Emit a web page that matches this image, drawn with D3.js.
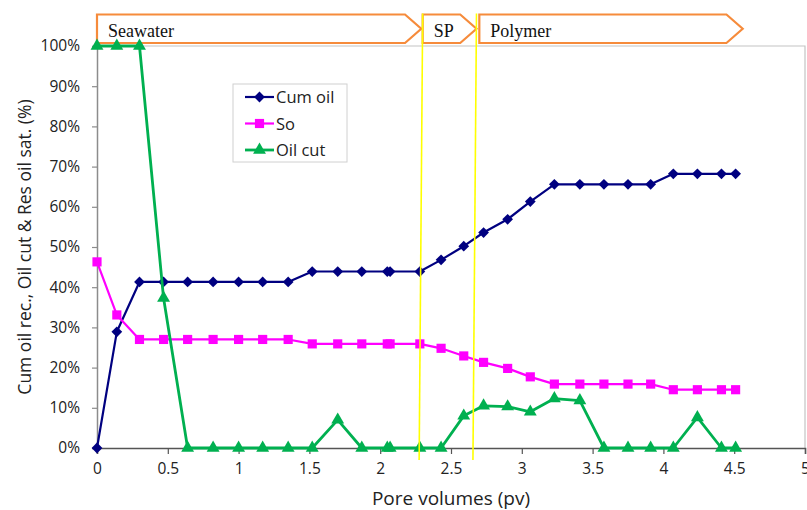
<!DOCTYPE html>
<html>
<head>
<meta charset="utf-8">
<script src="https://cdn.jsdelivr.net/npm/d3@7"></script>
<style>
  html, body { margin: 0; padding: 0; background: #fff; }
  svg { display: block; font-family: "Open Sans", "Liberation Sans", sans-serif; }
  text { fill: #222; }
  .stage-label { font-family: "Liberation Serif", "Times New Roman", serif; }
</style>
</head>
<body>
<svg id="chart" width="807" height="510"></svg>
<script>
// Pore volumes injected (pv) at each measurement
const poreVolumes = [0, 0.14, 0.30, 0.47, 0.64, 0.82, 1.00, 1.17, 1.35, 1.52, 1.70, 1.87, 2.05, 2.07,
  2.28, 2.43, 2.59, 2.73, 2.90, 3.06, 3.23, 3.41, 3.58, 3.75, 3.91, 4.07, 4.24, 4.41, 4.51];
// Cumulative oil recovery (%)
const cumOil = [0, 28.9, 41.3, 41.3, 41.3, 41.3, 41.3, 41.3, 41.3, 43.9, 43.9, 43.9, 43.9, 43.9,
  43.9, 46.8, 50.2, 53.6, 56.9, 61.3, 65.6, 65.6, 65.6, 65.6, 65.6, 68.2, 68.2, 68.2, 68.2];
// Residual oil saturation So (%)
const oilSat = [46.3, 33.1, 27.0, 27.0, 27.0, 27.0, 27.0, 27.0, 27.0, 25.9, 25.9, 25.9, 25.9, 25.9,
  25.9, 24.8, 22.9, 21.3, 19.8, 17.7, 15.9, 15.9, 15.9, 15.9, 15.9, 14.5, 14.5, 14.5, 14.5];
// Oil cut (%)
const oilCut = [100, 100, 100, 37.3, 0, 0, 0, 0, 0, 0, 7.0, 0, 0, 0,
  0, 0, 8.0, 10.5, 10.3, 9.0, 12.3, 11.8, 0, 0, 0, 0, 7.6, 0, 0];

const seriesNames = ["Cum oil", "So", "Oil cut"];
const xTicks = [0, 0.5, 1, 1.5, 2, 2.5, 3, 3.5, 4, 4.5, 5];
const yTicks = [0, 10, 20, 30, 40, 50, 60, 70, 80, 90, 100];

// Injection stages along the top (pv extents)
const stageNames = ["Seawater", "SP", "Polymer"];
const stageStart = [0, 2.30, 2.70];
const stageEnd = [2.29, 2.68, 4.56];
// Stage boundary markers (pv at top and at bottom of the plot)
const boundaryTop = [2.30, 2.68];
const boundaryBottom = [2.275, 2.655];

const svg = d3.select("#chart");
const margin = { left: 97, right: 2, top: 46, bottom: 62 };
const W = 807, H = 510;

const x = d3.scaleLinear().domain([0, 5]).range([margin.left, W - margin.right]);
const y = d3.scaleLinear().domain([0, 100]).range([H - margin.bottom, margin.top]);

// plot frame (top and right edges)
svg.append("path")
  .attr("d", `M${x(0)},${y(100)}H${x(5)}V${y(0)}`)
  .attr("fill", "none").attr("stroke", "#c4c4c4").attr("stroke-width", 1.2);

// y axis
const yAxis = svg.append("g").attr("transform", `translate(${x(0)},0)`)
  .call(d3.axisLeft(y).tickValues(yTicks).tickSize(5).tickPadding(12).tickFormat(d => d + "%"));
yAxis.attr("font-family", null).attr("font-size", null);
yAxis.select(".domain").attr("stroke", "#8c8c8c").attr("stroke-width", 1.5);
yAxis.selectAll(".tick line").attr("stroke", "#8c8c8c").attr("stroke-width", 1.2);
yAxis.selectAll(".tick text").attr("font-size", 15.5).attr("fill", "#222");

// x axis
const xAxis = svg.append("g").attr("transform", `translate(0,${y(0)})`)
  .call(d3.axisBottom(x).tickValues(xTicks).tickSize(6).tickPadding(9).tickFormat(d3.format("~g")));
xAxis.attr("font-family", null).attr("font-size", null);
xAxis.select(".domain").attr("stroke", "#555").attr("stroke-width", 1.5);
xAxis.selectAll(".tick line").attr("stroke", "#555").attr("stroke-width", 1.2);
xAxis.selectAll(".tick text").attr("font-size", 15.5).attr("fill", "#222");

// axis titles
svg.append("text").attr("x", (x(0) + x(5)) / 2).attr("y", 505)
  .attr("text-anchor", "middle").attr("font-size", 19).text("Pore volumes (pv)");
svg.append("text").attr("transform", `translate(31,${(y(0) + y(100)) / 2}) rotate(-90)`)
  .attr("text-anchor", "middle").attr("font-size", 17.5).text("Cum oil rec., Oil cut & Res oil sat. (%)");

// stage arrows
const stageTop = 14.5, stageBot = 43;
const stages = svg.append("g");
stageNames.forEach((name, i) => {
  const x0 = x(stageStart[i]), x1 = x(stageEnd[i]);
  const mid = (stageTop + stageBot) / 2;
  const notch = (stageBot - stageTop) / 2 + 2;
  stages.append("path")
    .attr("d", `M${x0},${stageTop}H${x1 - notch}L${x1},${mid}L${x1 - notch},${stageBot}H${x0}Z`)
    .attr("fill", "#fff").attr("stroke", "#f68b3b").attr("stroke-width", 2.2)
    .attr("stroke-linejoin", "miter");
  stages.append("text").attr("class", "stage-label").attr("x", x0 + 11).attr("y", 37)
    .attr("font-size", 18).style("fill", "#111").text(name);
});

// series
const colors = ["#000080", "#ff00ff", "#00b050"];
const widths = [2.2, 2.2, 2.8];
const values = [cumOil, oilSat, oilCut];
const symbols = [
  { type: d3.symbolSquare, size: 58, rotate: 45 },
  { type: d3.symbolSquare, size: 84, rotate: 0 },
  { type: d3.symbolTriangle, size: 72, rotate: 0 }
];
const line = d3.line().x(d => x(d[0])).y(d => y(d[1]));

values.forEach((vals, s) => {
  const pts = poreVolumes.map((pv, i) => [pv, vals[i]]);
  const g = svg.append("g");
  g.append("path").datum(pts).attr("d", line)
    .attr("fill", "none").attr("stroke", colors[s]).attr("stroke-width", widths[s])
    .attr("stroke-linejoin", "round");
  const sym = d3.symbol().type(symbols[s].type).size(symbols[s].size);
  g.selectAll("path.m").data(pts).join("path").attr("class", "m")
    .attr("d", sym)
    .attr("transform", d => `translate(${x(d[0])},${y(d[1])}) rotate(${symbols[s].rotate})`)
    .attr("fill", colors[s]);
});

// stage boundaries
boundaryTop.forEach((b, i) => {
  svg.append("line")
    .attr("x1", x(b)).attr("y1", stageTop - 1)
    .attr("x2", x(boundaryBottom[i])).attr("y2", y(0) + 12)
    .attr("stroke", "#ffff00").attr("stroke-width", 1.6);
});

// legend
const lg = svg.append("g").attr("transform", "translate(233,84)");
lg.append("rect").attr("width", 114).attr("height", 78)
  .attr("fill", "#fff").attr("stroke", "#d0d0d0").attr("stroke-width", 1);
seriesNames.forEach((name, s) => {
  const cy = 13 + s * 26.5;
  lg.append("line").attr("x1", 12).attr("x2", 41).attr("y1", cy).attr("y2", cy)
    .attr("stroke", colors[s]).attr("stroke-width", widths[s]);
  lg.append("path").attr("d", d3.symbol().type(symbols[s].type).size(symbols[s].size)())
    .attr("transform", `translate(26.5,${cy}) rotate(${symbols[s].rotate})`)
    .attr("fill", colors[s]);
  lg.append("text").attr("x", 43).attr("y", cy + 6).attr("font-size", 16.5).text(name);
});
</script>
</body>
</html>
